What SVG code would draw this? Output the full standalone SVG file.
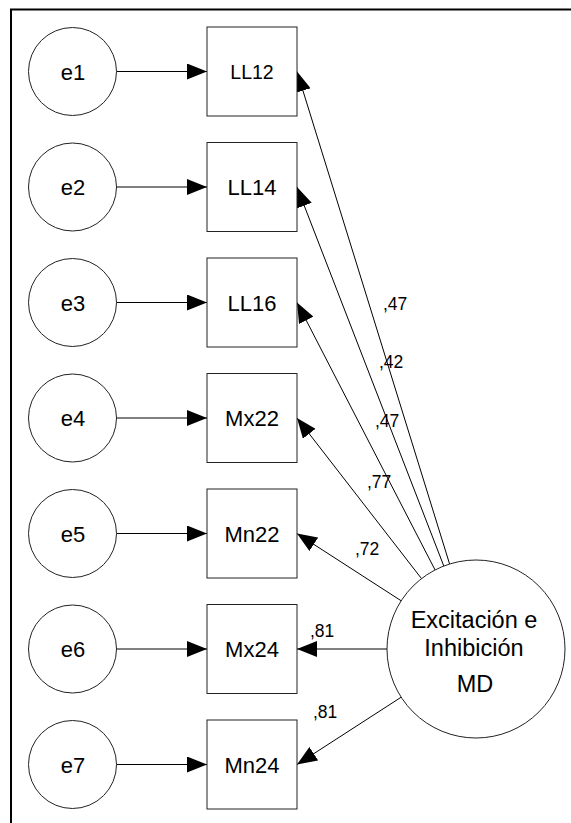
<svg xmlns="http://www.w3.org/2000/svg" width="571" height="823" viewBox="0 0 571 823">
<style>
.frame{fill:none;stroke:#000;stroke-width:2}
.node{fill:#fff;stroke:#222;stroke-width:1}
.lbl{font-family:"Liberation Sans",Arial,sans-serif;font-size:22px;fill:#000;text-anchor:middle}
.coef{font-family:"Liberation Sans",Arial,sans-serif;font-size:17.5px;fill:#000}
.edge{stroke:#000;stroke-width:1;fill:none;marker-end:url(#ah)}
</style>
<defs>
<marker id="ah" viewBox="0 0 20 16" refX="20" refY="8" markerWidth="20" markerHeight="16" markerUnits="userSpaceOnUse" orient="auto">
<path d="M0,0 L20,8 L0,16 z" fill="#000"/>
</marker>
</defs>
<rect width="571" height="823" fill="#fff"/>
<path class="frame" d="M11,823 L11,9.5 L571,9.5"/>
<g id="connectors">
<line class="edge" x1="116.5" y1="71.5" x2="207" y2="71.5"/>
<line class="edge" x1="116.5" y1="187" x2="207" y2="187"/>
<line class="edge" x1="116.5" y1="302.5" x2="207" y2="302.5"/>
<line class="edge" x1="116.5" y1="418" x2="207" y2="418"/>
<line class="edge" x1="116.5" y1="533.5" x2="207" y2="533.5"/>
<line class="edge" x1="116.5" y1="649" x2="207" y2="649"/>
<line class="edge" x1="116.5" y1="764.5" x2="207" y2="764.5"/>
<line class="edge" x1="449.6" y1="564" x2="297" y2="71.5"/>
<line class="edge" x1="443.8" y1="566" x2="297" y2="187"/>
<line class="edge" x1="435.1" y1="570" x2="297" y2="302.5"/>
<line class="edge" x1="421.5" y1="578.6" x2="297" y2="418"/>
<line class="edge" x1="401.2" y1="600.8" x2="297" y2="533.5"/>
<line class="edge" x1="387" y1="649" x2="297" y2="649"/>
<line class="edge" x1="401.2" y1="697.2" x2="297" y2="764.5"/>
<text class="coef" x="383" y="310">,47</text>
<text class="coef" x="379" y="368">,42</text>
<text class="coef" x="375" y="427">,47</text>
<text class="coef" x="367" y="488">,77</text>
<text class="coef" x="355" y="555">,72</text>
<text class="coef" x="310" y="636.5">,81</text>
<text class="coef" x="313" y="718">,81</text>
</g>
<g id="e1"><circle class="node" cx="72.5" cy="71.5" r="44"/><text class="lbl" x="73" y="79.5">e1</text></g>
<g id="e2"><circle class="node" cx="72.5" cy="187" r="44"/><text class="lbl" x="73" y="195">e2</text></g>
<g id="e3"><circle class="node" cx="72.5" cy="302.5" r="44"/><text class="lbl" x="73" y="310.5">e3</text></g>
<g id="e4"><circle class="node" cx="72.5" cy="418" r="44"/><text class="lbl" x="73" y="426">e4</text></g>
<g id="e5"><circle class="node" cx="72.5" cy="533.5" r="44"/><text class="lbl" x="73" y="541.5">e5</text></g>
<g id="e6"><circle class="node" cx="72.5" cy="649" r="44"/><text class="lbl" x="73" y="657">e6</text></g>
<g id="e7"><circle class="node" cx="72.5" cy="764.5" r="44"/><text class="lbl" x="73" y="772.5">e7</text></g>
<g id="LL12"><rect class="node" x="207" y="27" width="90" height="89"/><text class="lbl" x="252" y="78.5" style="font-size:19.5px">LL12</text></g>
<g id="LL14"><rect class="node" x="207" y="142.5" width="90" height="89"/><text class="lbl" x="252" y="195">LL14</text></g>
<g id="LL16"><rect class="node" x="207" y="258" width="90" height="89"/><text class="lbl" x="252" y="310.5">LL16</text></g>
<g id="Mx22"><rect class="node" x="207" y="373.5" width="90" height="89"/><text class="lbl" x="252" y="426">Mx22</text></g>
<g id="Mn22"><rect class="node" x="207" y="489" width="90" height="89"/><text class="lbl" x="252" y="541.5">Mn22</text></g>
<g id="Mx24"><rect class="node" x="207" y="604.5" width="90" height="89"/><text class="lbl" x="252" y="657">Mx24</text></g>
<g id="Mn24"><rect class="node" x="207" y="720" width="90" height="89"/><text class="lbl" x="252" y="772.5">Mn24</text></g>
<g id="factor"><circle class="node" cx="476" cy="649" r="89"/>
<text class="lbl" x="474" y="627.5" style="font-size:23.5px">Excitación e</text>
<text class="lbl" x="474" y="655.5" style="font-size:23.5px">Inhibición</text>
<text class="lbl" x="475" y="692" style="font-size:23.5px">MD</text></g>
</svg>
